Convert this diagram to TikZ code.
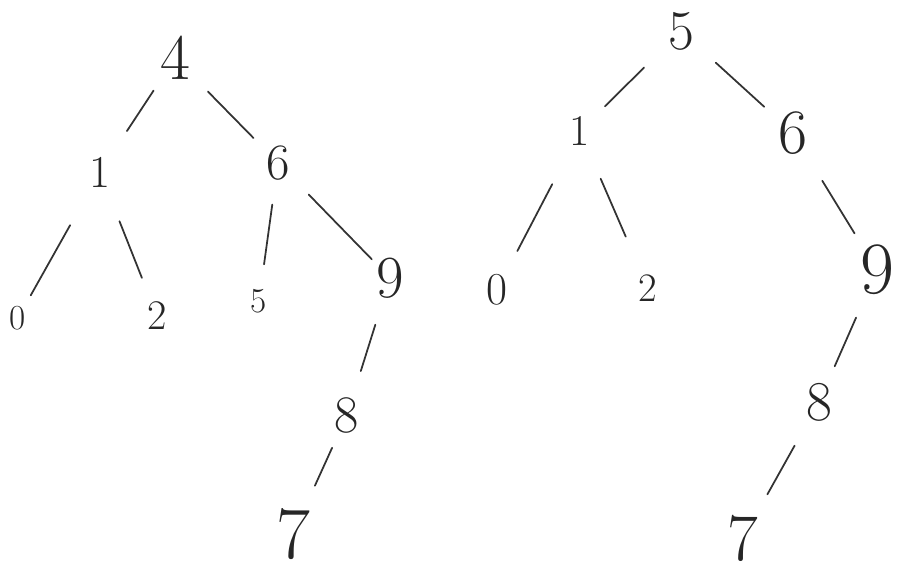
\documentclass[tikz,border=0pt]{standalone}
\usepackage{fontspec}
\usepackage{tikz}
\tikzset{
  num/.style={font=\fontsize{#1}{#1}\selectfont, inner sep=0pt, text=black!85},
  cut/.style 2 args={line width=1pt, draw=black!80, line cap=round,
    shorten <=#1*0.02cm, shorten >=#2*0.02cm}
}
\begin{document}
\begin{tikzpicture}[x=0.02cm, y=-0.02cm]
    \useasboundingbox (0,0) rectangle (897,575);

    % left tree
    \node[num=37] (a4) at (175,58){4};
    \node[num=26] (a1) at (100,172){1};
    \node[num=29] (a6) at (278,163){6};
    \node[num=20] (a0) at (18,318){0};
    \node[num=24] (a2) at (157,316){2};
    \node[num=20] (a5) at (259,301){5};
    \node[num=34] (a9) at (390,278){9};
    \node[num=30] (a8) at (347,415){8};
    \node[num=42] (a7) at (293,534){7};

    \draw (a4.center) edge[cut={39}{49}] (a1.center);
    \draw (a4.center) edge[cut={47}{35}] (a6.center);
    \draw (a1.center) edge[cut={61}{26}] (a0.center);
    \draw (a1.center) edge[cut={53}{41}] (a2.center);
    \draw (a6.center) edge[cut={42}{37}] (a5.center);
    \draw (a6.center) edge[cut={44}{26}] (a9.center);
    \draw (a9.center) edge[cut={49}{46}] (a8.center);
    \draw (a8.center) edge[cut={36}{53}] (a7.center);

    % right tree
    \node[num=32] (b5) at (681,31){5};
    \node[num=25] (b1) at (580,131){1};
    \node[num=36] (b6) at (793,133){6};
    \node[num=26] (b0) at (497,290){0};
    \node[num=23] (b2) at (648,288){2};
    \node[num=42] (b9) at (877,270){9};
    \node[num=32] (b8) at (819,402){8};
    \node[num=38] (b7) at (743,538){7};

    \draw (b5.center) edge[cut={52}{35}] (b1.center);
    \draw (b5.center) edge[cut={47}{39}] (b6.center);
    \draw (b1.center) edge[cut={60}{44}] (b0.center);
    \draw (b1.center) edge[cut={52}{56}] (b2.center);
    \draw (b6.center) edge[cut={56}{43}] (b9.center);
    \draw (b9.center) edge[cut={52}{39}] (b8.center);
    \draw (b8.center) edge[cut={50}{50}] (b7.center);
\end{tikzpicture}
\end{document}
